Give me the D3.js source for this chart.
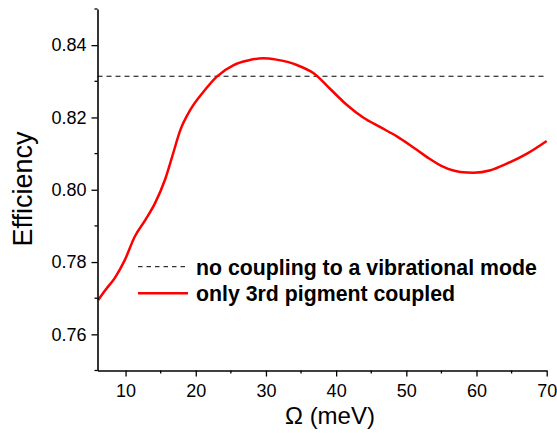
<!DOCTYPE html>
<html>
<head>
<meta charset="utf-8">
<script src="https://cdn.jsdelivr.net/npm/d3@7"></script>
<style>
  body { margin: 0; background: #fff; }
  text { font-family: Arial, "Liberation Sans", sans-serif; fill: #000; }
</style>
</head>
<body>
<div id="chart"></div>
<script>
// values
var omega = [6.1, 7.1, 8.5, 9.9, 11.3, 12.8, 14.2, 15.6, 16.6, 17.8, 19.2, 21.1, 23.0, 25.4, 27.3, 29.6,
  31.5, 33.2, 34.4, 36.8, 39.2, 41.5, 43.9, 46.3, 48.7, 50.5, 52.9, 55.3, 57.7, 59.6, 62.0, 64.3, 67.2, 70.0];
var efficiency = [0.7695, 0.7722, 0.7757, 0.7806, 0.7870, 0.7916, 0.7963, 0.8027, 0.8089, 0.8165, 0.8220, 0.8271,
  0.8313, 0.8345, 0.8357, 0.8364, 0.8360, 0.8353, 0.8345, 0.8322, 0.8278, 0.8235, 0.8199, 0.8173, 0.8147,
  0.8124, 0.8091, 0.8063, 0.8049, 0.8047, 0.8054, 0.8072, 0.8100, 0.8135];
var noCoupling = 0.8314;
var xTicks = [10, 20, 30, 40, 50, 60, 70];
var xMinor = [15, 25, 35, 45, 55, 65];
var yTicks = [0.76, 0.78, 0.80, 0.82, 0.84];
var yMinor = [0.75, 0.77, 0.79, 0.81, 0.83, 0.85];
var legendLabels = ["no coupling to a vibrational mode", "only 3rd pigment coupled"];

var width = 557, height = 433;
var margin = { top: 9, right: 10, bottom: 62.5, left: 97.5 };

var svg = d3.select("#chart").append("svg")
    .attr("width", width)
    .attr("height", height);

var x = d3.scaleLinear().domain([6, 70]).range([margin.left, 546.7]);
var y = d3.scaleLinear().domain([0.75, 0.85]).range([height - margin.bottom, margin.top]);

var data = omega.map(function (d, i) { return { o: d, v: efficiency[i] }; });

// dashed reference line
svg.append("line")
    .attr("x1", x(6)).attr("x2", x(70))
    .attr("y1", y(noCoupling)).attr("y2", y(noCoupling))
    .attr("stroke", "#000")
    .attr("stroke-width", 1)
    .attr("stroke-dasharray", "5,4");

var line = d3.line()
    .x(function (d) { return x(d.o); })
    .y(function (d) { return y(d.v); })
    .curve(d3.curveMonotoneX);

svg.append("path")
    .datum(data)
    .attr("fill", "none")
    .attr("stroke", "#ff0000")
    .attr("stroke-width", 2.5)
    .attr("stroke-linejoin", "round")
    .attr("d", line);

// axes
var xAxis = svg.append("g")
    .attr("transform", "translate(0," + y(0.75) + ")")
    .call(d3.axisBottom(x).tickValues(xTicks).tickSize(6).tickSizeOuter(0).tickFormat(d3.format("d")));
xAxis.append("g").selectAll("line").data(xMinor).join("line")
    .attr("x1", x).attr("x2", x).attr("y1", 0).attr("y2", 3)
    .attr("stroke", "#000").attr("stroke-width", 1.3);

var yAxis = svg.append("g")
    .attr("transform", "translate(" + x(6) + ",0)")
    .call(d3.axisLeft(y).tickValues(yTicks).tickSize(6).tickSizeOuter(0).tickFormat(d3.format(".2f")));
yAxis.append("g").selectAll("line").data(yMinor).join("line")
    .attr("y1", y).attr("y2", y).attr("x1", 0).attr("x2", -3)
    .attr("stroke", "#000").attr("stroke-width", 1.3);

[xAxis, yAxis].forEach(function (g) {
    g.select(".domain").attr("stroke-width", 1.6);
    g.selectAll(".tick line").attr("stroke-width", 1.3);
    g.selectAll("text").attr("font-size", 18).attr("font-family", "Arial, 'Liberation Sans', sans-serif");
});
xAxis.selectAll(".tick text").attr("dy", null).attr("y", 26.5);
yAxis.selectAll(".tick text").attr("x", -11);

// axis titles
svg.append("text")
    .attr("x", 330).attr("y", 424)
    .attr("text-anchor", "middle")
    .attr("font-size", 24)
    .text("\u03A9 (meV)");

svg.append("text")
    .attr("transform", "translate(32,189) rotate(-90)")
    .attr("text-anchor", "middle")
    .attr("font-size", 27)
    .text("Efficiency");

// legend
var legend = svg.append("g");
var legendY = [266.7, 293.3];
legend.append("line")
    .attr("x1", 138).attr("x2", 188).attr("y1", legendY[0]).attr("y2", legendY[0])
    .attr("stroke", "#000").attr("stroke-width", 1).attr("stroke-dasharray", "4.5,4");
legend.append("line")
    .attr("x1", 138).attr("x2", 188).attr("y1", legendY[1]).attr("y2", legendY[1])
    .attr("stroke", "#ff0000").attr("stroke-width", 2.5);
legend.selectAll("text.lbl").data(legendLabels).join("text")
    .attr("class", "lbl")
    .attr("x", 196)
    .attr("y", function (d, i) { return legendY[i] + 8; })
    .attr("font-size", 21.3)
    .attr("font-weight", "bold")
    .text(function (d) { return d; });
</script>
</body>
</html>
